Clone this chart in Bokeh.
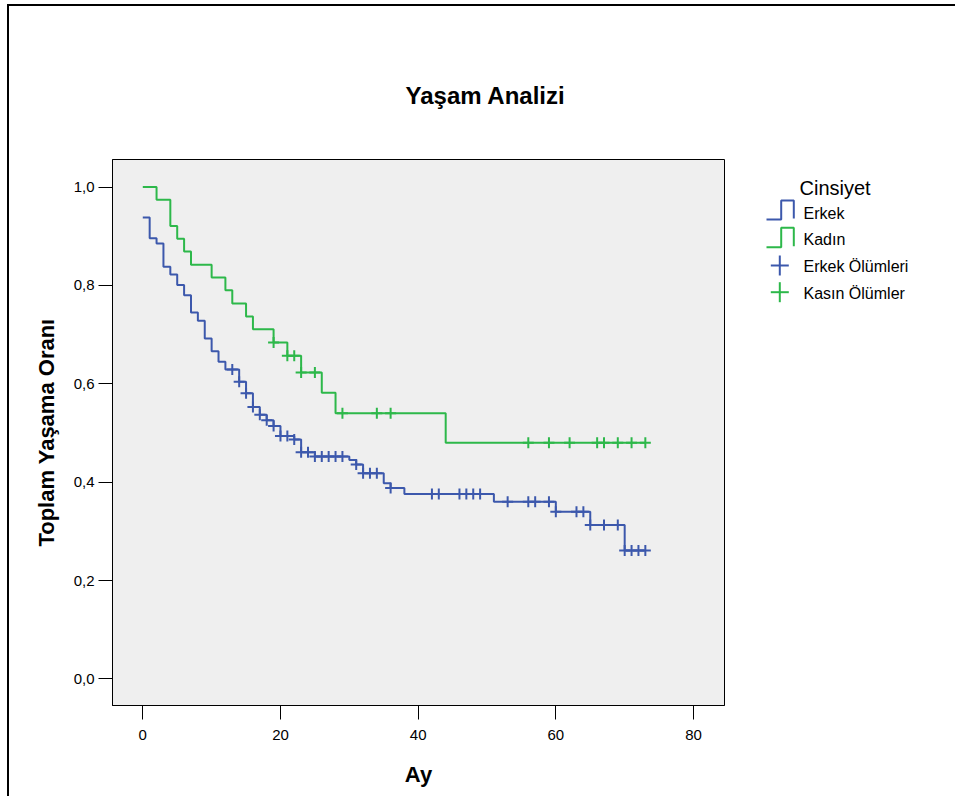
from bokeh.plotting import figure
from bokeh.layouts import row
from bokeh.models import Range1d, FixedTicker, CustomJSTickFormatter
from bokeh.core.properties import value
from bokeh.embed import file_html
from bokeh.resources import INLINE

# ---------------- data ----------------
erkek_times = [0, 1, 2, 3, 4, 5, 6, 7, 8, 9, 10, 11, 12, 14, 15, 16, 17, 18, 19, 20,
               22, 23, 25, 30, 31, 32, 35, 36, 38, 51, 60, 65, 70]
erkek_surv = [0.938, 0.896, 0.885, 0.838, 0.822, 0.801, 0.780, 0.745, 0.728, 0.692,
              0.666, 0.645, 0.629, 0.604, 0.581, 0.553, 0.537, 0.526, 0.514, 0.494,
              0.487, 0.461, 0.452, 0.445, 0.436, 0.418, 0.398, 0.388, 0.376, 0.360,
              0.340, 0.313, 0.261]
erkek_censor = [13, 14, 15, 16, 17, 18, 19, 20, 21, 22, 23, 24, 25, 26, 27, 28, 29,
                31, 32, 33, 34, 36, 42, 43, 46, 47, 48, 49, 53, 56, 57, 59, 60, 63,
                64, 65, 67, 69, 70, 71, 72, 73]
erkek_end = 73

kadin_times = [0, 2, 4, 5, 6, 7, 10, 12, 13, 15, 16, 19, 21, 23, 26, 28, 44]
kadin_surv = [1.0, 0.974, 0.921, 0.895, 0.869, 0.842, 0.816, 0.790, 0.763, 0.737,
              0.711, 0.684, 0.657, 0.623, 0.582, 0.540, 0.480]
kadin_censor = [19, 21, 22, 23, 25, 29, 34, 36, 56, 59, 62, 66, 67, 69, 71, 73]
kadin_end = 73

x_ticks = [0, 20, 40, 60, 80]
x_tick_labels = ["0", "20", "40", "60", "80"]
y_ticks = [0.0, 0.2, 0.4, 0.6, 0.8, 1.0]
y_tick_labels = ["0,0", "0,2", "0,4", "0,6", "0,8", "1,0"]

title_text = "Yaşam Analizi"
x_label = "Ay"
y_label = "Toplam Yaşama Oranı"
legend_title = "Cinsiyet"
legend_labels = ["Erkek", "Kadın", "Erkek Ölümleri", "Kasın Ölümler"]

# ---------------- style / layout ----------------
BLUE = "#3C58AC"
GREEN = "#2DB84A"
FONT = "Liberation Sans"
OX, OY = 9, 6                      # content origin on the page (after margin + border)
W1, H1 = 751, 790                  # main figure
FL, FR, FT, FB = 103, 715, 153, 699  # frame edges in canvas px
W2 = 946 - W1                      # legend panel width
X0, X1 = -4.4, 84.5
Y0, Y1 = -0.054, 1.056


def km_lookup(times, surv, t):
    v = surv[0]
    for ti, si in zip(times, surv):
        if ti <= t:
            v = si
    return v


p = figure(width=W1, height=H1, x_range=Range1d(X0, X1), y_range=Range1d(Y0, Y1),
           output_backend="svg", toolbar_location=None,
           min_border_left=FL, min_border_right=W1 - FR,
           min_border_top=FT, min_border_bottom=H1 - FB,
           background_fill_color="#EFEFEF", border_fill_color="white",
           outline_line_color="black", outline_line_width=1)
p.xgrid.visible = False
p.ygrid.visible = False

fmt_code = ("const i = tvals.findIndex(t => Math.abs(t - tick) < 1e-9);"
            "return i >= 0 ? tlabels[i] : '';")
p.xaxis.ticker = FixedTicker(ticks=x_ticks)
p.xaxis.formatter = CustomJSTickFormatter(args=dict(tvals=x_ticks, tlabels=x_tick_labels), code=fmt_code)
p.yaxis.ticker = FixedTicker(ticks=y_ticks)
p.yaxis.formatter = CustomJSTickFormatter(args=dict(tvals=y_ticks, tlabels=y_tick_labels), code=fmt_code)

for ax in (p.xaxis[0], p.yaxis[0]):
    ax.axis_line_color = "black"
    ax.major_tick_line_color = "black"
    ax.major_tick_out = 14
    ax.major_tick_in = 0
    ax.minor_tick_line_color = None
    ax.major_label_text_font = FONT
    ax.major_label_text_font_size = "15px"
    ax.major_label_text_color = "black"
    ax.axis_label_text_font = FONT
    ax.axis_label_text_font_size = "22px"
    ax.axis_label_text_font_style = "bold"
    ax.axis_label_text_color = "black"
p.xaxis.axis_label = x_label
p.yaxis.axis_label = y_label
p.xaxis.major_label_standoff = 10
p.yaxis.major_label_standoff = 4
p.xaxis.axis_label_standoff = 19
p.yaxis.axis_label_standoff = 12

# title
p.title.text = title_text
p.title.align = "left"
p.title.offset = 405 - 112
p.title.standoff = 102
p.title.text_font = FONT
p.title.text_font_size = "24px"
p.title.text_font_style = "bold"
p.title.text_color = "black"

# survival step curves
for times, surv, end, color in ((erkek_times, erkek_surv, erkek_end, BLUE),
                                (kadin_times, kadin_surv, kadin_end, GREEN)):
    xs = list(times) + [end]
    ys = list(surv) + [surv[-1]]
    p.step(x=xs, y=ys, mode="after", line_color=color, line_width=2)

# censored marks
for times, surv, cens, color in ((erkek_times, erkek_surv, erkek_censor, BLUE),
                                 (kadin_times, kadin_surv, kadin_censor, GREEN)):
    cy = [km_lookup(times, surv, t) for t in cens]
    p.scatter(x=cens, y=cy, marker="cross", size=11, line_color=color, line_width=2)

# ---------------- legend panel (page pixel coordinates) ----------------
# its frame is aligned with the main frame vertically (page y 159..705)
lx0 = OX + W1
q = figure(width=W2, height=H1, x_range=Range1d(lx0, lx0 + W2),
           y_range=Range1d(OY + FB, OY + FT), output_backend="svg",
           toolbar_location=None, x_axis_location=None, y_axis_location=None,
           min_border_left=0, min_border_right=0,
           min_border_top=FT, min_border_bottom=H1 - FB,
           outline_line_color=None, background_fill_color="white",
           border_fill_color="white")
q.xgrid.visible = False
q.ygrid.visible = False

q.text(x=[799], y=[187], text=[legend_title], text_font=value(FONT),
       text_font_size="20px", text_baseline="alphabetic", text_align="left",
       text_color="black")
q.text(x=[803] * 4, y=[212.5, 239, 265.5, 292.5], text=legend_labels,
       text_font=value(FONT), text_font_size="16px", text_baseline="alphabetic",
       text_align="left", text_color="black")

for top, bot, color in ((200, 219, BLUE), (227.3, 246.7, GREEN)):
    q.line(x=[766, 780.7, 780.7, 793.3, 793.3], y=[bot, bot, top, top, bot - 1],
           line_color=color, line_width=2)

for cy, color in ((265, BLUE), (291.7, GREEN)):
    cx = 779.3
    q.multi_line(xs=[[cx - 9, cx + 9], [cx, cx]], ys=[[cy, cy], [cy - 10, cy + 10]],
                 line_color=color, line_width=2)

layout = row(p, q, spacing=0,
             styles={"margin-left": "7px", "margin-top": "4px",
                     "border-left": "2px solid black", "border-top": "2px solid black"})

open("out.html", "w").write(file_html(layout, INLINE))
